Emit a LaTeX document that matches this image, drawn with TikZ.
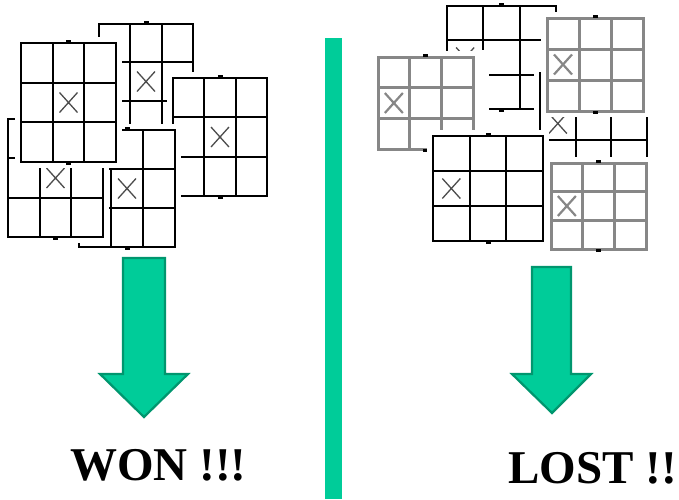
\documentclass[tikz,border=0pt]{standalone}
\usepackage{fontspec}
\setmainfont{Liberation Serif}

\definecolor{tttGray}{RGB}{135,135,135}
\definecolor{arrowFill}{RGB}{0,204,153}
\definecolor{arrowEdge}{RGB}{0,150,110}

% one tic-tac-toe card: style, left, top, right, bottom, X column, X row
\newcommand{\tttCard}[7]{%
    \pgfmathsetmacro\tttCa{#2+(#4-#2)/3}
    \pgfmathsetmacro\tttCb{#2+2*(#4-#2)/3}
    \pgfmathsetmacro\tttRa{#3+(#5-#3)/3}
    \pgfmathsetmacro\tttRb{#3+2*(#5-#3)/3}
    \pgfmathsetmacro\tttMid{(#2+#4)/2}
    \pgfmathsetmacro\tttXc{#2+(#6-0.5)*(#4-#2)/3}
    \pgfmathsetmacro\tttYc{#3+(#7-0.5)*(#5-#3)/3}
    \fill[white] (#2-6,#3-6) rectangle (#4+6,#5+6);
    \draw[#1] (#2,#3) rectangle (#4,#5);
    \draw[#1] (\tttCa,#3) -- (\tttCa,#5) (\tttCb,#3) -- (\tttCb,#5);
    \draw[#1] (#2,\tttRa) -- (#4,\tttRa) (#2,\tttRb) -- (#4,\tttRb);
    \draw[#1Mark] (\tttXc-9,\tttYc-10) -- (\tttXc+9,\tttYc+10)
                  (\tttXc-9,\tttYc+10) -- (\tttXc+9,\tttYc-10);
    \fill[black] (\tttMid-2.5,#3-3) rectangle (\tttMid+2.5,#3);
    \fill[black] (\tttMid-2.5,#5) rectangle (\tttMid+2.5,#5+3);
}

\begin{document}
\begin{tikzpicture}[x=1pt, y=-1pt,
    tttBlack/.style={draw=black, line width=2.2pt},
    tttBlackMark/.style={draw=black!70, line width=1.3pt},
    tttGrey/.style={draw=tttGray, line width=3pt},
    tttGreyMark/.style={draw=tttGray, line width=2.2pt},
    tttArrow/.style={fill=arrowFill, draw=arrowEdge, line width=2.2pt, line join=miter},
    tttResult/.style={font=\fontsize{47}{50}\selectfont\bfseries, inner sep=0pt, anchor=base west}]

    \useasboundingbox (0,0) rectangle (679,499);

    % Won pile
    \tttCard{tttBlack}{99}{24}{193}{139}{2}{2}
    \tttCard{tttBlack}{173}{78}{267}{196}{2}{2}
    \tttCard{tttBlack}{79}{130}{175}{247}{2}{2}
    \tttCard{tttBlack}{8}{119}{103}{237}{2}{2}
    \tttCard{tttBlack}{21}{43}{116}{162}{2}{2}

    % Lost pile
    \tttCard{tttBlack}{447}{6}{556}{109}{1}{2}
    \tttCard{tttGrey}{378}{57}{473}{149}{1}{2}
    \fill[white] (479,50) rectangle (489,156);
    \tttCard{tttBlack}{540}{73}{647}{174}{1}{2}
    \tttCard{tttGrey}{547}{18}{643}{111}{1}{2}
    \tttCard{tttBlack}{433}{136}{543}{241}{1}{2}
    \tttCard{tttGrey}{551}{163}{646}{249}{1}{2}

    % Divider
    \fill[arrowFill] (325,38) rectangle (342,499);

    % Arrows
    \draw[tttArrow] (123,258) -- (165,258) -- (165,374) -- (188,374) -- (144,417)
        -- (100,374) -- (123,374) -- cycle;
    \draw[tttArrow] (532,267) -- (571,267) -- (571,374) -- (591,374) -- (552,413)
        -- (512,374) -- (532,374) -- cycle;

    % Results
    \node[tttResult] (wonText) at (70,480) {WON !!!};
    \node[tttResult] (lostText) at (508,483) {LOST !!};
\end{tikzpicture}
\end{document}
